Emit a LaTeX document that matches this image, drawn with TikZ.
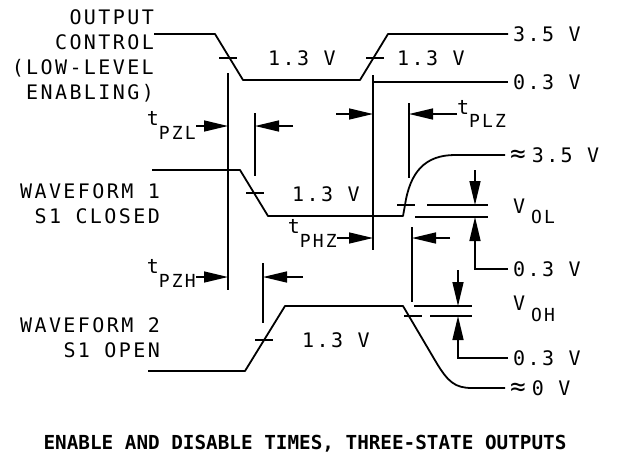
\documentclass[tikz,border=0pt]{standalone}
\usepackage{fontspec}
\usetikzlibrary{arrows.meta}
\newfontfamily\plotfont{DejaVu Sans Mono}[LetterSpace=12]
\newfontfamily\capfont{DejaVu Sans Mono}
\newcommand\SubLabel[2]{\raisebox{-#1}{\fontsize{18}{18}\selectfont #2}}
\tikzset{
  WaveStyle/.style = {line width=1.8pt, line join=round},
  GuideStyle/.style = {line width=1.5pt},
  DimStyle/.style = {line width=1.5pt, -{Triangle[length=24pt,width=11pt]}},
  LabelStyle/.style = {inner sep=0pt, font=\plotfont\fontsize{20}{25}\selectfont},
  LevelStyle/.style = {LabelStyle, anchor=west, inner xsep=5pt},
  CaptionStyle/.style = {inner sep=0pt, font=\capfont\bfseries\fontsize{19.3}{22}\selectfont} }

\begin{document}
\begin{tikzpicture}[x=1pt,y=-1pt]
  \useasboundingbox (0,0) rectangle (621,456);

  \node[LabelStyle, align=right, anchor=north east] (ctrl) at (154,9) {OUTPUT\\CONTROL\\(LOW-LEVEL\\ENABLING)};
  \node[LabelStyle, align=right, anchor=north east] (wave1) at (160,183) {WAVEFORM 1\\S1 CLOSED};
  \node[LabelStyle, align=right, anchor=north east] (wave2) at (160,317) {WAVEFORM 2\\S1 OPEN};

  \node[LevelStyle] (hi) at (508,34) {3.5 V};
  \node[LevelStyle] (lo) at (508,82) {0.3 V};
  \node[LevelStyle] (hione) at (505,155) {{\fontsize{26}{26}\selectfont ≈}\hspace{6pt}3.5 V};
  \node[LevelStyle] (loone) at (508,269) {0.3 V};
  \node[LevelStyle] (lotwo) at (508,358) {0.3 V};
  \node[LevelStyle] (zero) at (505,388) {{\fontsize{26}{26}\selectfont ≈}\hspace{6pt}0 V};

  \node[LabelStyle, anchor=west] (ctrlmid) at (268,58) {1.3 V};
  \node[LabelStyle, anchor=west] (ctrlrise) at (397,58) {1.3 V};
  \node[LabelStyle, anchor=west] (onemid) at (292,194) {1.3 V};
  \node[LabelStyle, anchor=west] (twomid) at (302,340) {1.3 V};

  \node[LabelStyle, anchor=base east] (tpzl) at (196,125) {t\SubLabel{14pt}{PZL}};
  \node[LabelStyle, anchor=base west] (tplz) at (457,114) {t\SubLabel{13pt}{PLZ}};
  \node[LabelStyle, anchor=base east] (tphz) at (337,233) {t\SubLabel{14pt}{PHZ}};
  \node[LabelStyle, anchor=base east] (tpzh) at (196,273) {t\SubLabel{14pt}{PZH}};
  \node[LabelStyle, anchor=base west] (vol) at (513,213) {V\hspace{6pt}\SubLabel{10pt}{OL}};
  \node[LabelStyle, anchor=base west] (voh) at (513,310) {V\hspace{6pt}\SubLabel{11pt}{OH}};

  \node[CaptionStyle] (caption) at (305,444) {ENABLE AND DISABLE TIMES, THREE-STATE OUTPUTS};

  \draw[WaveStyle] (ctrl.north east |- 0,34) -- (215,34) -- (243,80) -- (360,80) -- (388,34) -- (hi.west);
  \draw[GuideStyle] (373,82) -- (lo.west);
  \draw[WaveStyle] (152,170) -- (240,170) -- (268,216) -- (403,216) -- (405,205)
    .. controls (410,172) and (425,155) .. (455,155) -- (hione.west);
  \draw[WaveStyle] (148,371) -- (245,371) -- (285,306) -- (403,306) -- (436,362)
    .. controls (448,382) and (455,388) .. (472,388) -- (zero.west);

  \foreach \x/\y in {228/58, 375/58, 255/193, 406/205, 264/340, 413/316}
    \draw[GuideStyle] (\x-9,\y) -- (\x+9,\y);

  \draw[GuideStyle] (427,205) -- (488,205);
  \draw[GuideStyle] (415,217) -- (488,217);
  \draw[GuideStyle] (414,306) -- (472,306);
  \draw[GuideStyle] (430,316) -- (472,316);

  \draw[GuideStyle] (228,73) -- (228,290);
  \draw[GuideStyle] (255,113) -- (255,176);
  \draw[GuideStyle] (263,263) -- (263,323);
  \draw[GuideStyle] (373,75) -- (373,250);
  \draw[GuideStyle] (409,103) -- (409,178);
  \draw[GuideStyle] (412,227) -- (412,302);

  \draw[DimStyle] (tpzl.east |- 0,126) -- (228,126);
  \draw[DimStyle] (293,126) -- (255,126);
  \draw[DimStyle] (336,114) -- (373,114);
  \draw[DimStyle] (tplz.west |- 0,114) -- (409,114);
  \draw[DimStyle] (tphz.east |- 0,238) -- (373,238);
  \draw[DimStyle] (450,238) -- (412,238);
  \draw[DimStyle] (tpzh.east |- 0,277) -- (228,277);
  \draw[DimStyle] (303,277) -- (263,277);

  \draw[DimStyle] (475,170) -- (475,205);
  \draw[DimStyle] (loone.west) -- (475,269) -- (475,217);
  \draw[DimStyle] (458,270) -- (458,306);
  \draw[DimStyle] (lotwo.west) -- (458,358) -- (458,316);
\end{tikzpicture}
\end{document}
